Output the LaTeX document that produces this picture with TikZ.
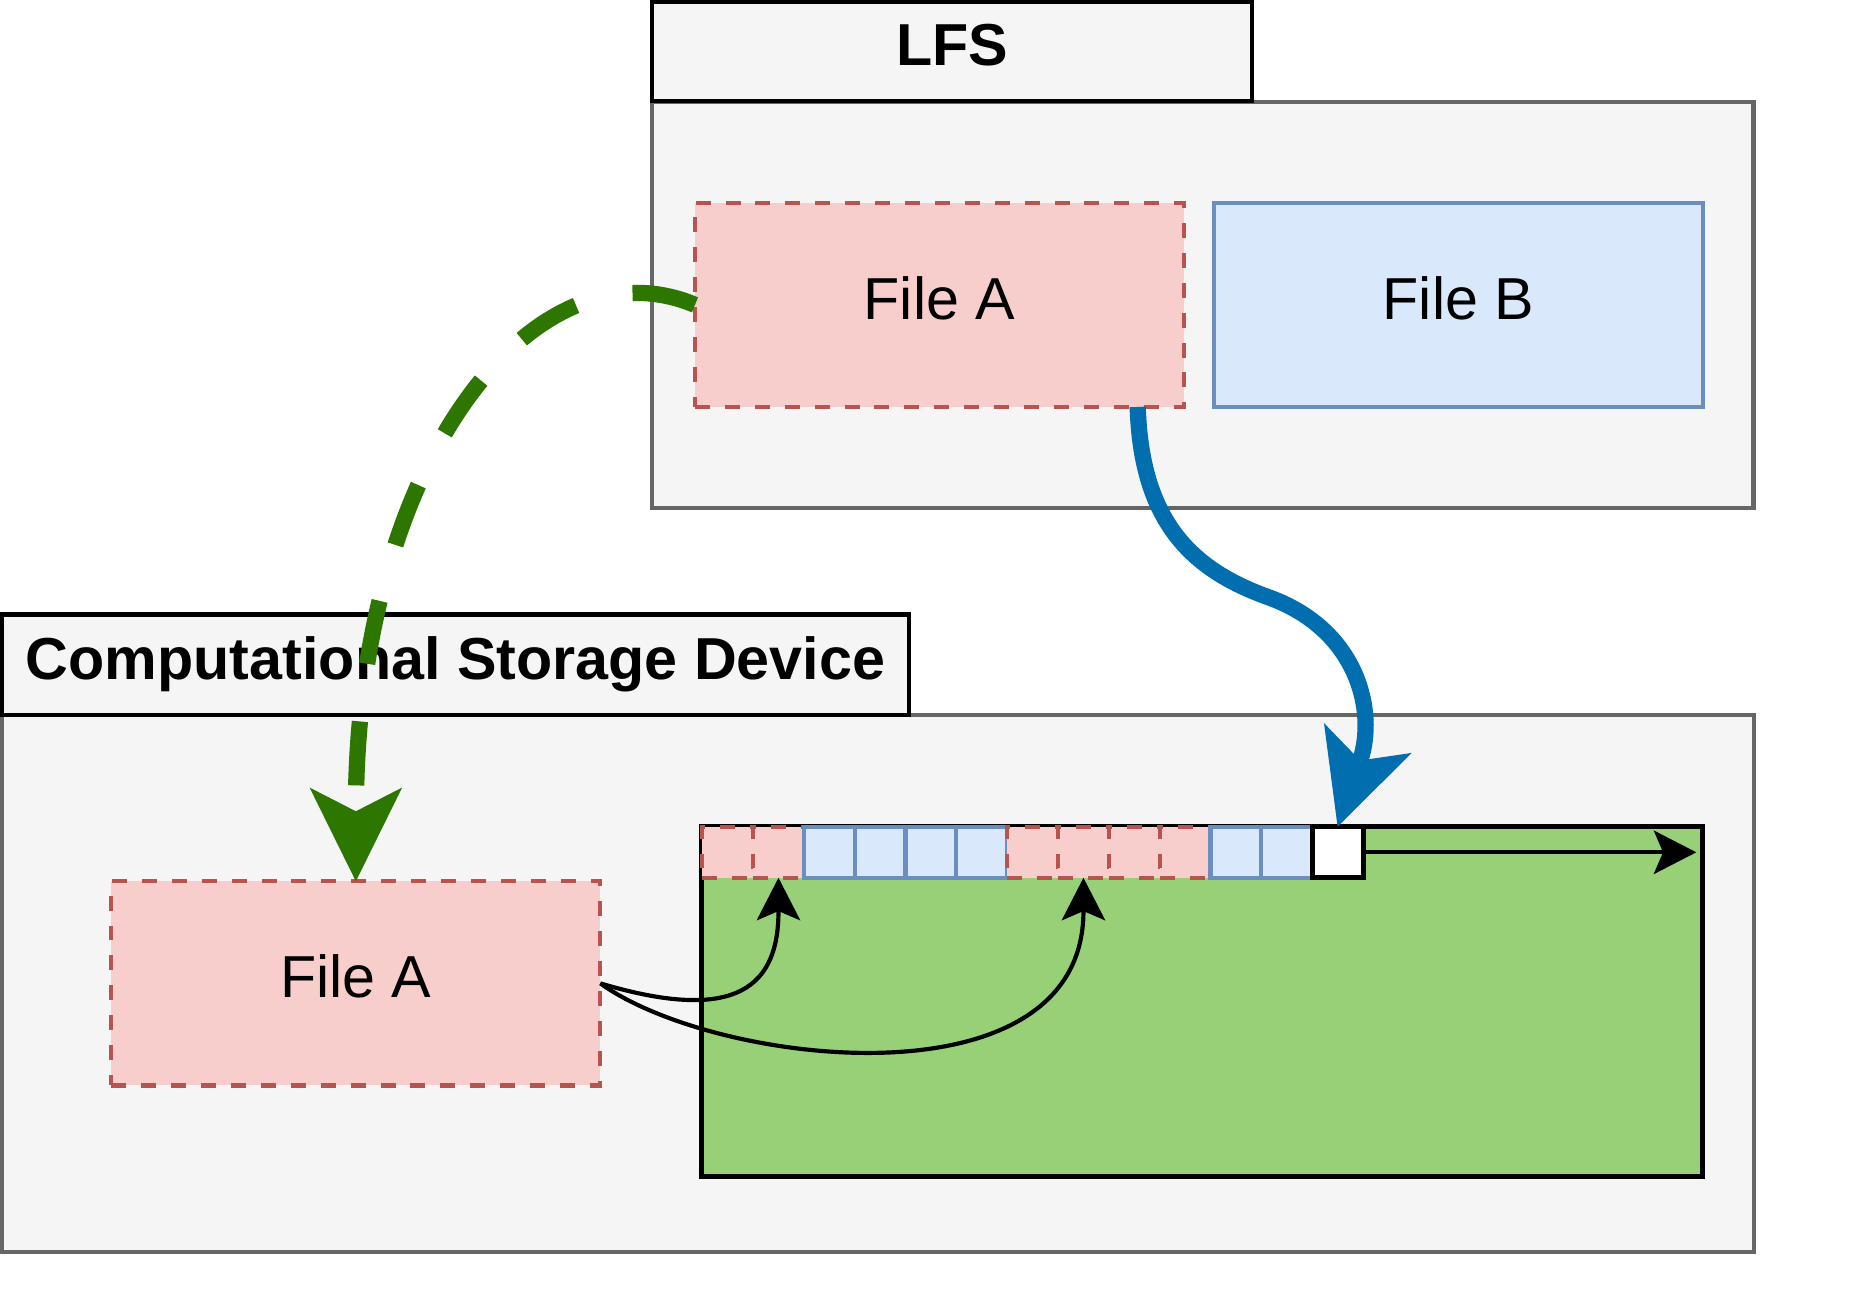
\documentclass[tikz,border=0pt]{standalone}
\usepackage{fontspec}
\setmainfont{Liberation Sans}
\usetikzlibrary{arrows.meta}

\definecolor{boxgray}{HTML}{F5F5F5}
\definecolor{edgegray}{HTML}{666666}
\definecolor{redfill}{HTML}{F8CECC}
\definecolor{redline}{HTML}{B85450}
\definecolor{bluefill}{HTML}{DAE8FC}
\definecolor{blueline}{HTML}{6C8EBF}
\definecolor{diskgreen}{HTML}{97D077}
\definecolor{movegreen}{HTML}{2D7600}
\definecolor{moveblue}{HTML}{006EAF}

\begin{document}
\begin{tikzpicture}[x=0.01cm,y=-0.01cm,
  every node/.style={font=\fontsize{14.2}{17}\selectfont, inner sep=0pt, outer sep=0pt},
  label text/.style={text height=0.37cm, text depth=0.13cm},
  container/.style={draw=edgegray, fill=boxgray, line width=1pt},
  header/.style={draw=black, fill=boxgray, line width=1pt, label text, font=\fontsize{14.2}{17}\selectfont\bfseries},
  filea/.style={draw=redline, fill=redfill, line width=1pt, dash pattern=on 0.126cm off 0.126cm},
  fileb/.style={draw=blueline, fill=bluefill, line width=1pt},
  filebox/.style={minimum width=4.12cm, minimum height=1.72cm, label text},
  cellred/.style={filea, minimum width=0.4285cm, minimum height=0.43cm},
  cellblue/.style={fileb, minimum width=0.4285cm, minimum height=0.43cm},
  cellwhite/.style={draw=black, fill=white, line width=1.2pt, minimum width=0.4285cm, minimum height=0.43cm},
  bigtip/.style={-{Stealth[length=0.79cm, width=0.78cm, inset=0.2cm, line width=0pt]}},
  smalltip/.style={-{Stealth[length=0.36cm, width=0.37cm, inset=0.08cm, line width=0pt]}}]

  \useasboundingbox (0,0) rectangle (1568,1100);

  % LFS side
  \node[container, minimum width=9.28cm, minimum height=3.42cm] (lfs) at (1014,257) {};
  \node[header, minimum width=5.05cm, minimum height=0.83cm] (lfshead) at (802.5,43.5) {LFS};
  \node[filea, filebox] (fa1) at (792,257) {File A};
  \node[fileb, filebox] (fb) at (1229.5,257) {File B};

  % device side
  \node[container, minimum width=14.76cm, minimum height=4.52cm] (csd) at (740,829) {};
  \node[header, minimum width=7.64cm, minimum height=0.85cm] (csdhead) at (384,560.5) {Computational Storage Device};
  \node[filea, filebox] (fa2) at (300,829) {File A};
  \node[draw=black, fill=diskgreen, line width=1.2pt, minimum width=8.43cm, minimum height=2.95cm] (disk) at (1013.5,844.5) {};

  \foreach \k [count=\i] in {red,red,blue,blue,blue,blue,red,red,red,red,blue,blue,white}
    \node[cell\k] (c\i) at ({592+42.85*(\i-0.5)},718.5) {};

  \coordinate (logend) at (1430,718.5);

  \draw[movegreen, line width=3.9pt, dash pattern=on 0.54cm off 0.49cm, bigtip]
    (fa1.west) .. controls +(-136,-57) and +(0,-353) .. (fa2.north);
  \draw[moveblue, line width=3.9pt, bigtip]
    ([xshift=-0.39cm]fa1.south east) .. controls +(3,97) and (1005,480) .. (1068,503)
    .. controls (1145,530) and +(33,-97) .. (c13.north);

  \draw[line width=1pt, smalltip] (fa2.east) .. controls +(117,35) and +(0,90) .. (c2.south);
  \draw[line width=1pt, smalltip] (fa2.east) .. controls +(97,70) and +(0,195) .. (c8.south);
  \draw[line width=1pt, smalltip] (c13.east) -- (logend);
\end{tikzpicture}
\end{document}
